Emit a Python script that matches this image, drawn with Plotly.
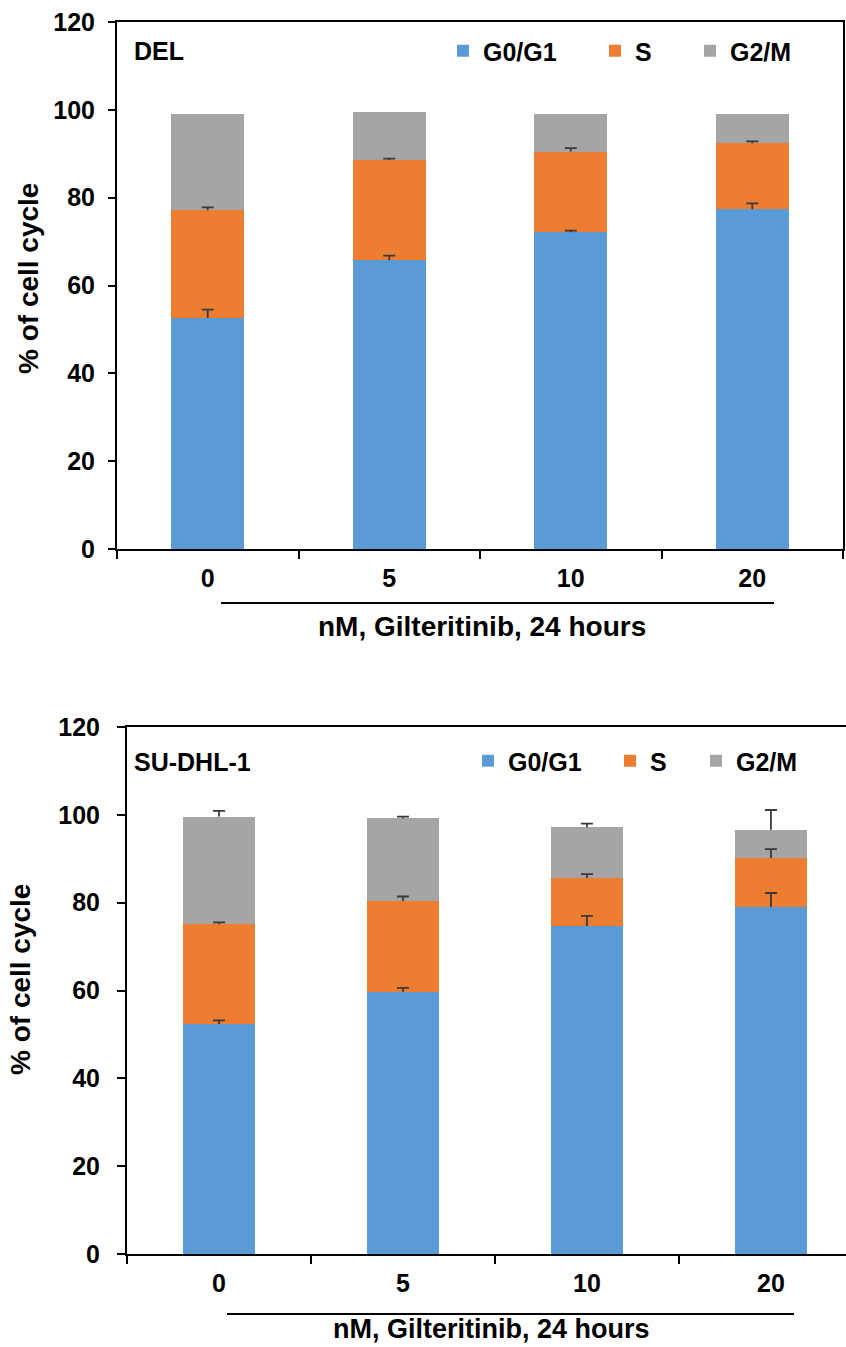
import plotly.graph_objects as go

W, H = 846, 1347

doses = ["0", "5", "10", "20"]
phases = ["G0/G1", "S", "G2/M"]
colors = ["#5B9BD5", "#ED7D31", "#A5A5A5"]

# DEL
del_g0g1 = [52.6, 65.8, 72.1, 77.4]
del_s = [24.5, 22.8, 18.4, 15.0]
del_g2m = [22.0, 10.9, 8.6, 6.7]
del_g0g1_err = [1.9, 1.0, 0.4, 1.3]
del_s_err = [0.7, 0.3, 0.8, 0.4]

# SU-DHL-1
sud_g0g1 = [52.4, 59.7, 74.7, 79.0]
sud_s = [22.7, 20.7, 10.9, 11.1]
sud_g2m = [24.5, 18.8, 11.6, 6.5]
sud_g0g1_err = [0.8, 0.9, 2.3, 3.2]
sud_s_err = [0.4, 1.0, 0.9, 2.1]
sud_g2m_err = [1.3, 0.4, 0.8, 4.5]

FONT = "Liberation Sans, Arial, sans-serif"
ERR_COLOR = "#3a3a3a"


def px(x):
    return x / W


def py(y):
    return 1 - y / H


fig = go.Figure()

top_sets = [(del_g0g1, del_g0g1_err), (del_s, del_s_err), (del_g2m, None)]
bot_sets = [(sud_g0g1, sud_g0g1_err), (sud_s, sud_s_err), (sud_g2m, sud_g2m_err)]

# stacked bars
for i, (vals, e) in enumerate(top_sets):
    fig.add_trace(go.Bar(x=doses, y=vals, name=phases[i],
                         marker=dict(color=colors[i], line=dict(width=0)),
                         width=0.4, xaxis="x", yaxis="y",
                         legend="legend" if i == 0 else f"legend{i+1}"))
for i, (vals, e) in enumerate(bot_sets):
    fig.add_trace(go.Bar(x=doses, y=vals, name=phases[i],
                         marker=dict(color=colors[i], line=dict(width=0)),
                         width=0.39, xaxis="x2", yaxis="y2",
                         legend=f"legend{i+4}"))

# plus-only error bars drawn above all segments: stem (no caps) + cap at the end
for sets, xa, ya in [(top_sets, "x", "y"), (bot_sets, "x2", "y2")]:
    cum = [0.0] * len(doses)
    for vals, e in sets:
        cum = [c + v for c, v in zip(cum, vals)]
        if e is None:
            continue
        fig.add_trace(go.Scatter(
            x=doses, y=cum, mode="markers", marker=dict(opacity=0, size=1),
            error_y=dict(type="data", symmetric=False, array=e, arrayminus=[0] * len(e),
                         color=ERR_COLOR, thickness=1.8, width=0),
            xaxis=xa, yaxis=ya, showlegend=False, hoverinfo="skip"))
        fig.add_trace(go.Scatter(
            x=doses, y=[c + d for c, d in zip(cum, e)], mode="markers",
            marker=dict(opacity=0, size=1),
            error_y=dict(type="data", symmetric=True, array=[0] * len(e),
                         color=ERR_COLOR, thickness=1.8, width=6),
            xaxis=xa, yaxis=ya, showlegend=False, hoverinfo="skip"))

axis_common = dict(showline=True, linecolor="black", linewidth=2, ticks="outside",
                   tickcolor="black", tickwidth=2, showgrid=False, zeroline=False,
                   tickfont=dict(family=FONT, size=25, color="black", weight="bold"))

fig.update_layout(
    width=W, height=H, margin=dict(l=0, r=0, t=0, b=0, autoexpand=False),
    paper_bgcolor="white", plot_bgcolor="white",
    barmode="stack", showlegend=True,
    font=dict(family=FONT, color="black"),
    xaxis=dict(domain=[px(117), px(843)], anchor="y", type="category", range=[-0.5, 3.5],
               tickson="boundaries", ticklen=8, mirror=True, ticklabelstandoff=6, **axis_common),
    yaxis=dict(domain=[py(549), py(22)], anchor="x", range=[0, 120], dtick=20,
               ticklen=7, mirror=True, ticklabelstandoff=8, **axis_common),
    xaxis2=dict(domain=[px(127), 1], anchor="y2", type="category", range=[-0.5, 3.408],
                tickson="boundaries", ticklen=8, mirror=True, ticklabelstandoff=6, **axis_common),
    yaxis2=dict(domain=[py(1254), py(727)], anchor="x2", range=[0, 120], dtick=20,
                ticklen=8, mirror=False, ticklabelstandoff=12, **axis_common),
)

legend_pos = [(443, 51), (595, 51), (690, 51), (468, 761), (610, 761), (696, 761)]
for k, (lx, ly) in enumerate(legend_pos):
    name = "legend" if k == 0 else f"legend{k+1}"
    fig.update_layout({name: dict(x=px(lx), y=py(ly), xanchor="left", yanchor="middle",
                                  bgcolor="rgba(0,0,0,0)", borderwidth=0, visible=True,
                                  font=dict(family=FONT, size=25, color="black", weight="bold"))})

ann = [
    dict(text="DEL", x=px(132), y=py(51), xanchor="left", yanchor="middle", size=25, angle=0),
    dict(text="SU-DHL-1", x=px(132), y=py(762), xanchor="left", yanchor="middle", size=25, angle=0),
    dict(text="% of cell cycle", x=px(28), y=py(279), xanchor="center", yanchor="middle", size=28, angle=-90),
    dict(text="% of cell cycle", x=px(20), y=py(980), xanchor="center", yanchor="middle", size=28, angle=-90),
    dict(text="nM, Gilteritinib, 24 hours", x=px(482), y=py(627), xanchor="center", yanchor="middle", size=28, angle=0),
    dict(text="nM, Gilteritinib, 24 hours", x=px(492), y=py(1329), xanchor="center", yanchor="middle", size=27, angle=0),
]
for a in ann:
    fig.add_annotation(text=a["text"], x=a["x"], y=a["y"], xref="paper", yref="paper",
                       xanchor=a["xanchor"], yanchor=a["yanchor"], textangle=a["angle"], showarrow=False,
                       font=dict(family=FONT, size=a["size"], color="black", weight="bold"))

for (x0, x1, yy) in [(221, 774, 603), (227, 794, 1314)]:
    fig.add_shape(type="line", xref="paper", yref="paper", x0=px(x0), x1=px(x1), y0=py(yy), y1=py(yy),
                  line=dict(color="black", width=2))

fig.write_html("out.html")
